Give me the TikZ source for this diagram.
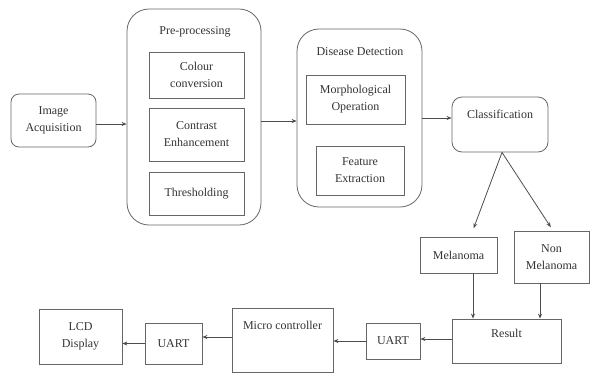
\documentclass[tikz,border=0pt]{standalone}
\usepackage{fontspec}
\setmainfont{Liberation Serif}
\usetikzlibrary{arrows.meta}
\begin{document}
\begin{tikzpicture}[x=1pt, y=-1pt,
    font=\fontsize{12}{17}\selectfont, text=black!80,
    box/.style={draw=black!60, line width=0.8pt, align=center, inner sep=0pt},
    rbox/.style={box, rounded corners=8pt},
    group/.style={box, rounded corners=22pt},
    arr/.style={draw=black!70, line width=0.8pt, -{Stealth[length=5pt,width=4pt]}}]
    \useasboundingbox (0,0) rectangle (590,373);

    % Adquisicion
    \node[rbox, minimum width=85pt, minimum height=53pt] (acq) at (53.5,120.5) {Image\\Acquisition};

    % Pre-processing
    \node[group, minimum width=134pt, minimum height=216pt] (pre) at (194,117) {};
    \node (pretitle) at (195,32) {Pre-processing};
    \node[box, minimum width=95pt, minimum height=46pt] (colour) at (196.5,75) {Colour\\conversion};
    \node[box, minimum width=95pt, minimum height=53pt] (contrast) at (196.5,134.5) {Contrast\\Enhancement};
    \node[box, minimum width=95pt, minimum height=43pt] (thresh) at (196.5,193.5) {Thresholding};

    % Disease Detection
    \node[group, minimum width=125pt, minimum height=178pt] (dis) at (359.5,118) {};
    \node (distitle) at (360,52) {Disease Detection};
    \node[box, minimum width=99pt, minimum height=49pt] (morph) at (355.5,99.5) {Morphological\\Operation};
    \node[box, minimum width=88pt, minimum height=49pt] (feat) at (360,170.5) {Feature\\Extraction};

    % Classification
    \node[rbox, rounded corners=10pt, minimum width=96pt, minimum height=55pt] (class) at (500,124.5) {};
    \node (classlbl) at (500,114) {Classification};

    % Salidas
    \node[box, minimum width=77pt, minimum height=36pt] (mel) at (458.5,255) {Melanoma};
    \node[box, minimum width=75pt, minimum height=52pt] (nonmel) at (551.5,257) {Non\\Melanoma};
    \node[box, minimum width=109pt, minimum height=44pt] (result) at (506.5,341) {};
    \node (resultlbl) at (506.5,333) {Result};

    % Fila inferior
    \node[box, minimum width=54pt, minimum height=36pt] (uartR) at (393,341) {UART};
    \node[box, minimum width=101pt, minimum height=64pt] (micro) at (282.5,340) {};
    \node (microlbl) at (282.5,325) {Micro controller};
    \node[box, minimum width=57pt, minimum height=41pt] (uartL) at (173.5,343.5) {UART};
    \node[box, minimum width=83pt, minimum height=55pt] (lcd) at (80.5,336.5) {LCD\\Display};

    % Flechas
    \draw[arr] ([yshift=-3.5pt]acq.east) -- ([yshift=-3.5pt]acq.east -| pre.west);
    \draw[arr] ([yshift=-4pt]pre.east) -- ([yshift=-4pt]pre.east -| dis.west);
    \draw[arr] (dis.east) -- (dis.east -| class.west);
    \draw[arr, shorten >=9pt] ([xshift=2pt]class.south) -- ([xshift=12pt]mel.north);
    \draw[arr, shorten >=4pt] ([xshift=2pt]class.south) -- ([xshift=1.5pt]nonmel.north);
    \draw[arr] ([xshift=14.5pt]mel.south) -- ([xshift=14.5pt]mel.south |- result.north);
    \draw[arr] ([xshift=-11.5pt]nonmel.south) -- ([xshift=-11.5pt]nonmel.south |- result.north);
    \draw[arr] ([yshift=2pt]result.west) -- ([yshift=2pt]result.west -| uartR.east);
    \draw[arr] (uartR.west) -- (uartR.west -| micro.east);
    \draw[arr] ([yshift=3pt]micro.west) -- ([yshift=3pt]micro.west -| uartL.east);
    \draw[arr] (uartL.west) -- (uartL.west -| lcd.east);
\end{tikzpicture}
\end{document}
